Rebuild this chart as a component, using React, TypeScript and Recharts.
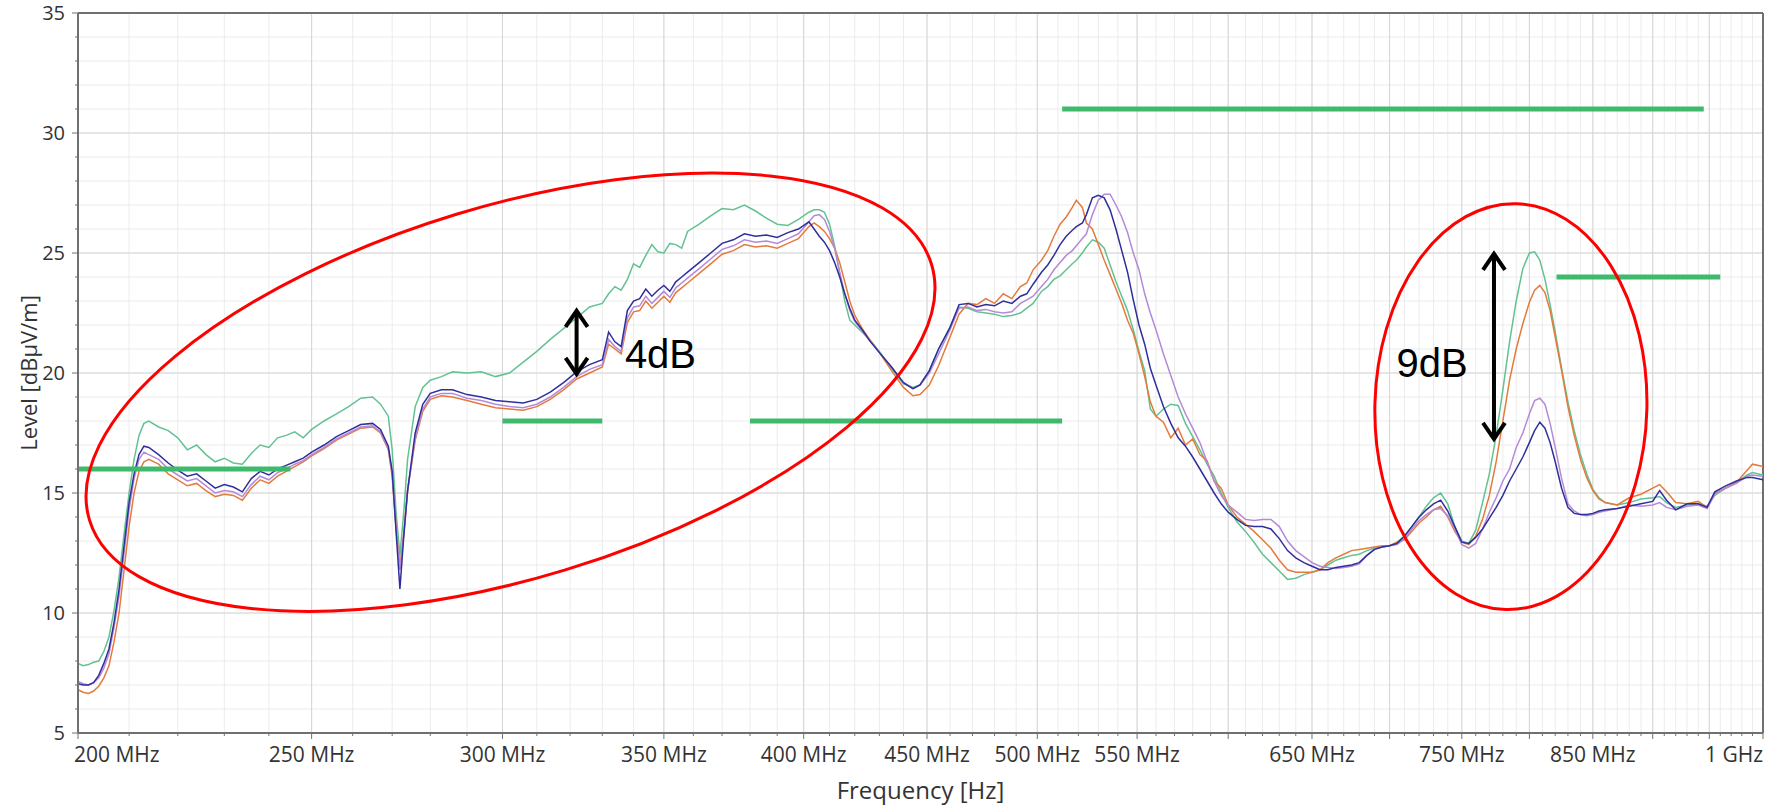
import React from "react";
import {
  LineChart,
  Line,
  XAxis,
  YAxis,
  CartesianGrid,
  ReferenceLine,
  ReferenceDot,
} from "recharts";

const FONT = "'Open Sans', 'Noto Sans', sans-serif";
const AXIS = "#707070";

// Frequency points in MHz
const freqMHz = [
  200, 201, 202, 203, 204, 205, 206, 207, 208, 209,
  210, 211, 212, 213, 214, 216, 218, 220, 222, 224,
  226, 228, 230, 232, 234, 236, 238, 240, 242, 244,
  246, 248, 250, 253, 256, 259, 262, 265, 267, 269,
  270, 271, 272, 273, 274, 276, 278, 280, 283, 286,
  290, 294, 298, 302, 306, 310, 314, 318, 322, 326,
  330, 332, 334, 336, 338, 340, 342, 344, 346, 348,
  350, 352, 354, 356, 358, 362, 366, 370, 374, 378,
  382, 386, 390, 394, 398, 402, 404, 406, 408, 410,
  412, 414, 416, 418, 420, 423, 426, 430, 435, 440,
  444, 447, 451, 455, 460, 464, 468, 472, 476, 480,
  484, 488, 492, 495, 498, 502, 505, 508, 511, 514,
  517, 519, 522, 524, 527, 530, 533, 536, 539, 542,
  545, 548, 551, 554, 557, 560, 564, 568, 572, 576,
  580, 584, 588, 592, 596, 600, 605, 610, 615, 620,
  625, 630, 635, 640, 645, 650, 655, 660, 665, 670,
  675, 680, 685, 690, 695, 700, 705, 710, 715, 720,
  725, 730, 735, 740, 745, 750, 755, 760, 765, 770,
  775, 780, 785, 790, 795, 800, 804, 808, 812, 816,
  820, 825, 830, 835, 840, 845, 850, 855, 860, 870,
  880, 890, 900, 906, 912, 920, 930, 940, 948, 955,
  965, 975, 985, 990, 1000,
];

// Level in dBµV/m, one value per frequency point
const greenTrace = [
  7.9, 7.8, 7.85, 7.95, 8.0, 8.4, 9.0, 10.1, 11.5, 13.3,
  15.0, 16.4, 17.4, 17.9, 18.0, 17.75, 17.6, 17.3, 16.8, 17.0,
  16.6, 16.3, 16.45, 16.25, 16.2, 16.65, 17.0, 16.9, 17.3, 17.4,
  17.55, 17.3, 17.65, 18.0, 18.3, 18.6, 18.95, 19.0, 18.7, 18.2,
  16.8, 14.2, 12.4, 14.2, 16.4, 18.6, 19.4, 19.7, 19.85, 20.05,
  20.0, 20.05, 19.85, 20.0, 20.45, 20.9, 21.4, 21.85, 22.3, 22.75,
  22.9, 23.3, 23.6, 23.45, 23.9, 24.55, 24.4, 24.9, 25.35, 25.05,
  25.0, 25.4, 25.35, 25.2, 25.9, 26.2, 26.55, 26.85, 26.8, 27.0,
  26.75, 26.45, 26.2, 26.15, 26.4, 26.7, 26.8, 26.8, 26.7, 26.2,
  25.3, 24.15, 23.0, 22.2, 22.0, 21.7, 21.4, 20.9, 20.2, 19.55,
  19.4, 19.5, 20.1, 21.0, 21.9, 22.75, 22.7, 22.55, 22.5, 22.45,
  22.35, 22.4, 22.5, 22.7, 22.9, 23.4, 23.6, 23.9, 24.05, 24.3,
  24.55, 24.7, 25.0, 25.25, 25.55, 25.45, 25.2, 24.5, 23.8, 23.2,
  22.6, 21.8, 20.9, 20.1, 18.5, 18.2, 18.5, 18.7, 18.65, 17.9,
  17.35, 16.8, 16.2, 15.7, 15.0, 14.4, 13.8, 13.4, 12.95, 12.45,
  12.1, 11.75, 11.4, 11.45, 11.6, 11.7, 11.8, 12.0, 12.2, 12.3,
  12.4, 12.45, 12.6, 12.7, 12.75, 12.8, 12.95, 13.2, 13.6, 14.0,
  14.45, 14.8, 15.0, 14.55, 13.6, 13.0, 12.9, 13.45, 14.6, 15.8,
  17.4, 19.3, 21.3, 23.0, 24.35, 25.0, 25.05, 24.7, 23.9, 22.85,
  21.7, 20.2, 18.8, 17.6, 16.6, 15.8, 15.15, 14.8, 14.6, 14.5,
  14.6, 14.75, 14.8, 14.85, 14.6, 14.4, 14.5, 14.55, 14.45, 14.9,
  15.2, 15.45, 15.75, 15.85, 15.75,
];

const orangeTrace = [
  6.8, 6.7, 6.65, 6.75, 6.95, 7.3, 7.8, 8.8, 10.0, 11.8,
  13.6, 15.0, 15.9, 16.3, 16.4, 16.2, 15.8, 15.55, 15.3, 15.4,
  15.1, 14.85, 14.95, 14.9, 14.7, 15.2, 15.55, 15.4, 15.7, 15.9,
  16.1, 16.3, 16.55, 16.85, 17.2, 17.45, 17.7, 17.75, 17.5, 16.8,
  15.7, 13.6, 11.9, 13.3, 15.1, 17.2, 18.4, 18.9, 19.05, 19.0,
  18.85, 18.7, 18.55, 18.5, 18.45, 18.6, 18.9, 19.3, 19.75, 20.0,
  20.25, 21.2, 21.0, 20.8, 22.1, 22.55, 22.6, 23.0, 22.7, 22.95,
  23.2, 22.95, 23.35, 23.55, 23.75, 24.15, 24.55, 24.95, 25.1, 25.35,
  25.25, 25.3, 25.2, 25.4, 25.6, 26.1, 26.25, 26.1, 25.9, 25.6,
  25.2, 24.6, 23.8, 23.0, 22.4, 21.85, 21.4, 20.85, 20.1, 19.4,
  19.05, 19.1, 19.5, 20.3, 21.5, 22.45, 22.9, 22.85, 23.1, 22.9,
  23.3, 23.1, 23.6, 23.75, 24.3, 24.7, 25.1, 25.7, 26.2, 26.5,
  26.9, 27.2, 26.9, 26.25, 26.0, 25.35, 24.7, 24.1, 23.5, 22.9,
  22.2, 21.65, 20.8, 19.85, 18.8, 18.2, 17.95, 17.3, 17.7, 17.0,
  17.25, 16.6, 16.35, 15.5, 15.2, 14.5, 14.0, 13.7, 13.4, 13.05,
  12.7, 12.2, 11.8, 11.7, 11.7, 11.7, 11.8, 12.1, 12.3, 12.45,
  12.6, 12.65, 12.7, 12.75, 12.8, 12.8, 12.95, 13.05, 13.4, 13.75,
  14.0, 14.3, 14.45, 14.0, 13.4, 12.95, 12.85, 13.2, 13.9, 14.9,
  16.3, 18.0, 19.7, 21.0, 22.05, 22.95, 23.45, 23.65, 23.35, 22.6,
  21.5, 20.1, 18.6, 17.4, 16.4, 15.65, 15.1, 14.75, 14.6, 14.5,
  14.8, 14.95, 15.2, 15.35, 15.05, 14.6, 14.55, 14.65, 14.4, 15.0,
  15.2, 15.45, 15.95, 16.2, 16.1,
];

const purpleTrace = [
  7.15, 7.05, 7.0, 7.1, 7.3, 7.7, 8.3, 9.4, 10.7, 12.5,
  14.3, 15.6, 16.4, 16.7, 16.6, 16.4, 16.0, 15.75, 15.5, 15.6,
  15.3, 15.0, 15.1, 15.05, 14.85, 15.35, 15.7, 15.55, 15.85, 16.0,
  16.2, 16.35, 16.6, 16.9, 17.25, 17.5, 17.75, 17.8, 17.55, 16.85,
  15.8, 13.5, 11.8, 13.3, 15.1, 17.3, 18.5, 19.0, 19.15, 19.15,
  18.95, 18.85, 18.7, 18.6, 18.55, 18.7, 19.0, 19.4, 19.85, 20.15,
  20.35, 21.4, 21.1, 20.9, 22.3, 22.75, 22.8, 23.2, 22.9, 23.15,
  23.4, 23.15, 23.55, 23.75, 23.95, 24.35, 24.75, 25.15, 25.3, 25.55,
  25.45, 25.5, 25.4, 25.6, 25.8, 26.3, 26.55, 26.6, 26.4, 25.9,
  25.2, 24.2, 23.3, 22.6, 22.15, 21.75, 21.35, 20.85, 20.25, 19.6,
  19.35, 19.5, 20.0, 20.8, 21.8, 22.7, 22.75, 22.6, 22.65, 22.55,
  22.5, 22.55, 22.9, 23.05, 23.2, 23.6, 23.9, 24.3, 24.6, 24.9,
  25.1, 25.3, 25.6, 25.8, 26.6, 27.2, 27.45, 27.45, 27.0, 26.5,
  25.85, 25.0, 24.3, 23.3, 22.5, 21.8, 20.8, 19.9, 19.0, 18.3,
  17.7, 17.1, 16.3, 15.5, 14.9, 14.5, 14.2, 13.9, 13.85, 13.9,
  13.9, 13.6, 13.0, 12.6, 12.35, 12.1, 11.95, 11.9, 11.85, 11.9,
  11.95, 12.05, 12.4, 12.65, 12.75, 12.8, 12.85, 13.1, 13.5, 13.85,
  14.1, 14.3, 14.35, 14.05, 13.5, 12.85, 12.7, 12.9, 13.5, 14.2,
  14.8, 15.5, 16.0, 16.9, 17.5, 18.3, 18.85, 18.95, 18.7, 17.9,
  16.9, 15.6, 14.55, 14.25, 14.1, 14.05, 14.1, 14.2, 14.25, 14.35,
  14.5, 14.45, 14.5, 14.6, 14.4, 14.3, 14.45, 14.5, 14.35, 14.95,
  15.2, 15.4, 15.7, 15.75, 15.7,
];

const blueTrace = [
  7.05, 7.0, 7.0, 7.1, 7.4, 7.9, 8.5, 9.6, 11.0, 12.8,
  14.6, 15.8, 16.6, 16.95, 16.9, 16.6, 16.25, 15.95, 15.7, 15.8,
  15.5, 15.2, 15.35, 15.25, 15.05, 15.6, 15.9, 15.75, 16.0, 16.15,
  16.3, 16.45, 16.7, 17.0, 17.35, 17.6, 17.85, 17.9, 17.65, 16.95,
  15.9, 13.4, 11.0, 13.2, 15.1, 17.5, 18.7, 19.15, 19.3, 19.3,
  19.1, 19.0, 18.85, 18.8, 18.75, 18.9, 19.2, 19.6, 20.05, 20.35,
  20.55, 21.7, 21.3, 21.1, 22.6, 23.0, 23.1, 23.5, 23.2, 23.45,
  23.65, 23.4, 23.8, 24.0, 24.2, 24.6, 25.0, 25.4, 25.55, 25.8,
  25.7, 25.75, 25.65, 25.85, 26.0, 26.3, 26.0, 25.7, 25.45, 25.1,
  24.6, 24.0, 23.3, 22.7, 22.2, 21.8, 21.35, 20.85, 20.25, 19.6,
  19.35, 19.5, 20.1, 21.0, 21.9, 22.85, 22.9, 22.75, 22.85, 22.8,
  23.0, 22.9, 23.2, 23.3, 23.7, 24.2, 24.5, 24.9, 25.35, 25.7,
  25.95, 26.1, 26.25, 26.6, 27.3, 27.4, 27.3, 26.8, 26.0, 25.1,
  24.2, 23.05, 22.0, 21.2, 20.2, 19.5, 18.6, 17.9, 17.3, 16.95,
  16.5, 16.0, 15.5, 15.0, 14.55, 14.2, 13.9, 13.65, 13.6, 13.6,
  13.5, 13.1, 12.6, 12.3, 12.1, 11.95, 11.8, 11.8, 11.9, 11.95,
  12.0, 12.1, 12.4, 12.65, 12.75, 12.8, 12.9, 13.2, 13.6, 14.0,
  14.3, 14.55, 14.7, 14.25, 13.6, 12.95, 12.9, 13.15, 13.5, 13.95,
  14.4, 14.9, 15.5, 16.0, 16.5, 17.1, 17.6, 17.95, 17.7, 17.1,
  16.3, 15.2, 14.4, 14.15, 14.1, 14.1, 14.15, 14.25, 14.3, 14.35,
  14.45, 14.55, 14.65, 15.1, 14.7, 14.3, 14.55, 14.55, 14.4, 15.05,
  15.3, 15.5, 15.65, 15.65, 15.55,
];

// Limit line segments: start MHz, end MHz, level dBµV/m
const limitSegments = [
  { from: 200, to: 245, level: 16 },
  { from: 300, to: 330, level: 18 },
  { from: 380, to: 512, level: 18 },
  { from: 512, to: 945, level: 31 },
  { from: 821, to: 960, level: 24 },
];

const majorFreqTicks = [
  200, 250, 300, 350, 400, 450, 500, 550, 600, 650,
  700, 750, 800, 850, 900, 950, 1000,
];
const freqLabels: Record<number, string> = {
  200: "200 MHz",
  250: "250 MHz",
  300: "300 MHz",
  350: "350 MHz",
  400: "400 MHz",
  450: "450 MHz",
  500: "500 MHz",
  550: "550 MHz",
  650: "650 MHz",
  750: "750 MHz",
  850: "850 MHz",
  1000: "1 GHz",
};
// every 10 MHz / every 1 dB; majors get longer ticks and darker grid
const allFreqTicks = Array.from({ length: 81 }, (_, i) => 200 + i * 10);
const levelTicks = [5, 10, 15, 20, 25, 30, 35];
const allLevelTicks = Array.from({ length: 31 }, (_, i) => 5 + i);

// Annotations (positions in MHz / dBµV/m)
const wideMarker = { f: 302.3, level: 19.2 };
const peakMarker = { f: 786, level: 18.6 };
const arrow4dB = { f: 322, low: 19.92, high: 22.63 };
const arrow9dB = { f: 773.4, low: 17.21, high: 25.01 };
const label4dB = { f: 337.2, level: 20.2, text: "4dB" };
const label9dB = { f: 704.7, level: 19.85, text: "9dB" };

const rows = freqMHz.map((f, i) => ({
  f,
  green: greenTrace[i],
  orange: orangeTrace[i],
  purple: purpleTrace[i],
  blue: blueTrace[i],
}));

const FreqTick = (props: any) => {
  const { x, y, payload } = props;
  const v = payload.value;
  const major = v % 50 === 0;
  const label = freqLabels[v];
  const anchor = v === 200 ? "start" : v === 1000 ? "end" : "middle";
  const dx = v === 200 ? -4 : 0;
  return (
    <g>
      <line x1={x} y1={y} x2={x} y2={y + (major ? 6 : 3)} stroke={AXIS} />
      {label && (
        <text
          x={x + dx}
          y={y + 29}
          textAnchor={anchor}
          fill="#333"
          fontSize={21}
          fontFamily={FONT}
        >
          {label}
        </text>
      )}
    </g>
  );
};

const LevelTick = (props: any) => {
  const { x, y, payload } = props;
  const v = payload.value;
  const major = v % 5 === 0;
  return (
    <g>
      <line x1={x - (major ? 6 : 3)} y1={y} x2={x} y2={y} stroke={AXIS} />
      {major && (
        <text
          x={x - 13}
          y={y + 7}
          textAnchor="end"
          fill="#333"
          fontSize={20}
          fontFamily={FONT}
        >
          {v}
        </text>
      )}
    </g>
  );
};

const ellipseShape = (rx: number, ry: number, angle: number) => (p: any) => (
  <ellipse
    cx={p.cx}
    cy={p.cy}
    rx={rx}
    ry={ry}
    transform={`rotate(${angle} ${p.cx} ${p.cy})`}
    fill="none"
    stroke="#ff0000"
    strokeWidth={3}
  />
);

const DoubleArrow = (p: any) => {
  const x = p.x1;
  const top = Math.min(p.y1, p.y2);
  const bottom = Math.max(p.y1, p.y2);
  return (
    <g stroke="#000" strokeWidth={4} fill="none">
      <line x1={x} y1={top + 2} x2={x} y2={bottom - 2} />
      <polyline points={`${x - 11},${top + 17} ${x},${top + 1} ${x + 11},${top + 17}`} />
      <polyline points={`${x - 11},${bottom - 17} ${x},${bottom - 1} ${x + 11},${bottom - 17}`} />
    </g>
  );
};

const textShape = (text: string) => (p: any) => (
  <text
    x={p.cx}
    y={p.cy}
    fontSize={40}
    fontFamily="'Liberation Sans', Arial, sans-serif"
    fill="#000"
  >
    {text}
  </text>
);

const xTitle = (props: any) => {
  const vb = props.viewBox ?? { x: 78, y: 733, width: 1685, height: 79 };
  return (
    <text
      x={vb.x + vb.width / 2}
      y={vb.y + 66}
      textAnchor="middle"
      fill="#333"
      fontSize={24}
      fontFamily={FONT}
    >
      Frequency [Hz]
    </text>
  );
};

const yTitle = (props: any) => {
  const vb = props.viewBox ?? { x: 18, y: 13, width: 60, height: 720 };
  const cx = vb.x + 19;
  const cy = vb.y + vb.height / 2;
  return (
    <text
      x={cx}
      y={cy}
      transform={`rotate(-90 ${cx} ${cy})`}
      textAnchor="middle"
      fill="#333"
      fontSize={22}
      fontFamily={FONT}
    >
      Level [dBµV/m]
    </text>
  );
};

export default function App() {
  return (
    <div
      style={{
        position: "absolute",
        left: 0,
        top: 0,
        width: 1778,
        height: 812,
        background: "#fff",
      }}
    >
      <LineChart
        width={1778}
        height={812}
        data={rows}
        margin={{ top: 13, right: 15, bottom: 0, left: 18 }}
      >
        <XAxis
          dataKey="f"
          type="number"
          scale="log"
          domain={[200, 1000]}
          allowDataOverflow
          ticks={allFreqTicks}
          interval={0}
          tick={<FreqTick />}
          tickSize={0}
          tickMargin={0}
          tickLine={false}
          axisLine={{ stroke: AXIS, strokeWidth: 2 }}
          height={79}
          label={{ content: xTitle }}
        />
        <YAxis
          type="number"
          domain={[5, 35]}
          allowDataOverflow
          ticks={allLevelTicks}
          interval={0}
          tick={<LevelTick />}
          tickSize={0}
          tickMargin={0}
          tickLine={false}
          axisLine={{ stroke: AXIS, strokeWidth: 2 }}
          width={60}
          label={{ content: yTitle }}
        />

        <CartesianGrid stroke="#ececec" />
        <CartesianGrid
          stroke="#d6d6d6"
          verticalValues={majorFreqTicks}
          horizontalValues={levelTicks}
        />

        <ReferenceLine y={35} stroke={AXIS} strokeWidth={2} />
        <ReferenceLine x={1000} stroke={AXIS} strokeWidth={2} />

        <Line dataKey="green" stroke="#62c291" strokeWidth={1.5} dot={false} isAnimationActive={false} />
        <Line dataKey="orange" stroke="#e47b3c" strokeWidth={1.5} dot={false} isAnimationActive={false} />
        <Line dataKey="purple" stroke="#b48ad8" strokeWidth={1.5} dot={false} isAnimationActive={false} />
        <Line dataKey="blue" stroke="#2f2f9c" strokeWidth={1.5} dot={false} isAnimationActive={false} />

        {limitSegments.map((s) => (
          <ReferenceLine
            key={`${s.from}-${s.level}`}
            segment={[
              { x: s.from, y: s.level },
              { x: s.to, y: s.level },
            ]}
            stroke="#3fba6d"
            strokeWidth={5}
          />
        ))}

        <ReferenceDot
          x={wideMarker.f}
          y={wideMarker.level}
          shape={ellipseShape(440, 186, -16.9)}
        />
        <ReferenceDot
          x={peakMarker.f}
          y={peakMarker.level}
          shape={ellipseShape(136, 203, 1.5)}
        />

        <ReferenceLine
          segment={[
            { x: arrow4dB.f, y: arrow4dB.low },
            { x: arrow4dB.f, y: arrow4dB.high },
          ]}
          shape={DoubleArrow}
        />
        <ReferenceLine
          segment={[
            { x: arrow9dB.f, y: arrow9dB.low },
            { x: arrow9dB.f, y: arrow9dB.high },
          ]}
          shape={DoubleArrow}
        />
        <ReferenceDot x={label4dB.f} y={label4dB.level} shape={textShape(label4dB.text)} />
        <ReferenceDot x={label9dB.f} y={label9dB.level} shape={textShape(label9dB.text)} />
      </LineChart>
    </div>
  );
}
